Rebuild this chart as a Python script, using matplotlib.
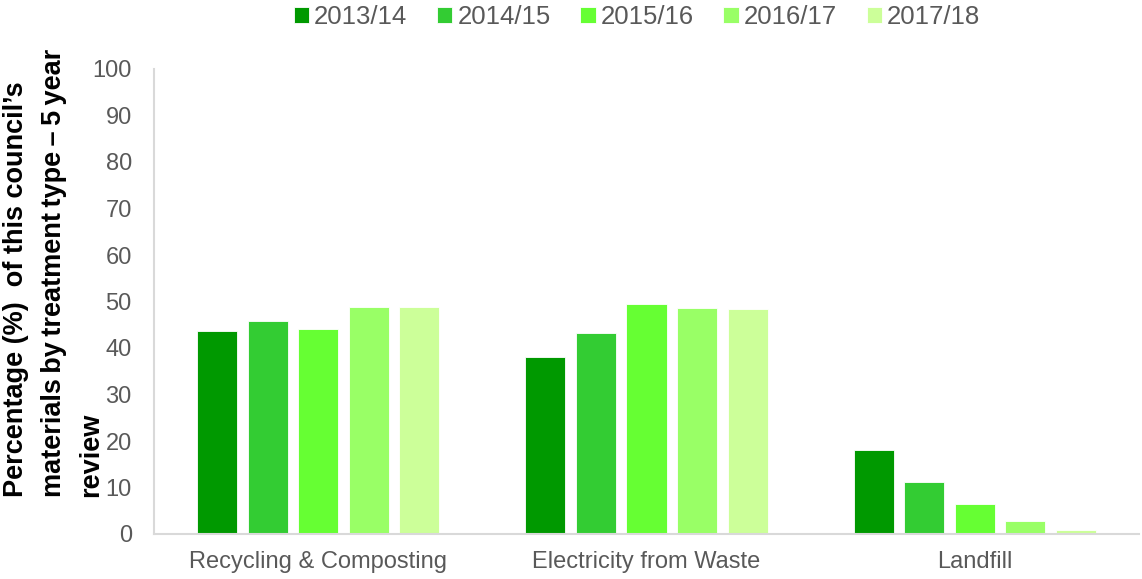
import numpy as np
import matplotlib
matplotlib.use("Agg")
import matplotlib.pyplot as plt

plt.rcParams['font.family'] = ['Liberation Sans', 'DejaVu Sans']

categories = ['Recycling & Composting', 'Electricity from Waste', 'Landfill']
years = ['2013/14', '2014/15', '2015/16', '2016/17', '2017/18']
values = {
    '2013/14': [43.7, 38.1, 18.1],
    '2014/15': [45.7, 43.3, 11.1],
    '2015/16': [44.1, 49.5, 6.5],
    '2016/17': [48.8, 48.5, 2.7],
    '2017/18': [48.8, 48.4, 0.9],
}
colors = ['#009900', '#33cc33', '#66ff33', '#99ff66', '#ccff99']
ylabel_lines = ["Percentage (%)  of this council\u2019s",
                "materials\u2009by\u2009treatment\u2009type\u2009\u2013\u20095\u2009year",
                "review"]

grey = '#595959'

fig = plt.figure(figsize=(11.42, 5.79), dpi=100)
ax = fig.add_axes([154 / 1142, 1 - 534 / 579, (1139 - 154) / 1142, (534 - 69) / 579])

x = np.arange(len(categories))
step = 0.154
width = 0.122
for i, yr in enumerate(years):
    ax.bar(x + (i - 2) * step, values[yr], width, color=colors[i], label=yr,
           edgecolor='white', linewidth=0.6)

ax.set_xlim(-0.5, 2.5)
ax.set_ylim(0, 100)
ax.set_yticks(range(0, 101, 10))
ax.set_xticks(x)
ax.set_xticklabels(categories)
ax.tick_params(axis='both', length=0, labelsize=17, colors=grey)
ax.tick_params(axis='y', pad=16)
ax.tick_params(axis='x', pad=12)

for s in ['top', 'right']:
    ax.spines[s].set_visible(False)
for s in ['left', 'bottom']:
    ax.spines[s].set_color('#d9d9d9')
    ax.spines[s].set_linewidth(1.5)

leg = fig.legend(loc='center', bbox_to_anchor=(637 / 1142, 1 - 17 / 579), ncol=5,
                 frameon=False, fontsize=18.5, handlelength=0.6, handleheight=0.6,
                 handletextpad=0.2, columnspacing=1.15, borderaxespad=0)
for t in leg.get_texts():
    t.set_color(grey)

# y label drawn line by line (rotated, left aligned at the bottom)
for line, px in zip(ylabel_lines, [3, 41, 78]):
    fig.text(px / 1142, 1 - 497 / 579, line, rotation=90, ha='left', va='bottom',
             fontsize=19.5, fontweight='bold', color='black')

fig.savefig('out.png', dpi=100)
